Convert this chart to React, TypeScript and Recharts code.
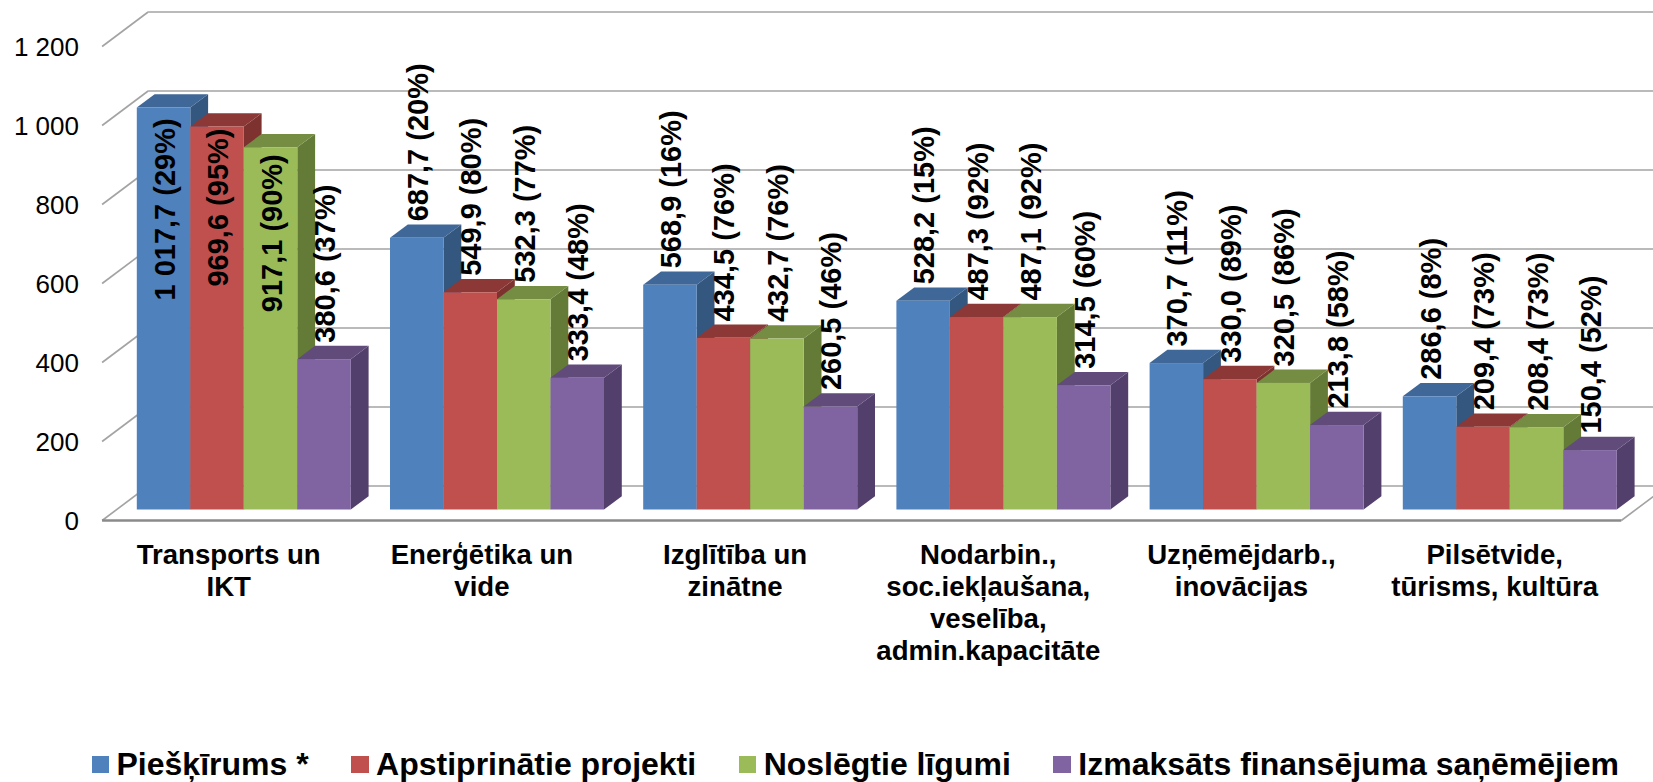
import React from 'react';
import { BarChart, Bar, XAxis, YAxis, CartesianGrid, Legend } from 'recharts';

const categories = [
  'Transports un\nIKT',
  'Enerģētika un\nvide',
  'Izglītība un\nzinātne',
  'Nodarbin.,\nsoc.iekļaušana,\nveselība,\nadmin.kapacitāte',
  'Uzņēmējdarb.,\ninovācijas',
  'Pilsētvide,\ntūrisms, kultūra',
];
const allocation = [1017.7, 687.7, 568.9, 528.2, 370.7, 286.6];
const approved = [969.6, 549.9, 434.5, 487.3, 330.0, 209.4];
const contracts = [917.1, 532.3, 432.7, 487.1, 320.5, 208.4];
const paid = [380.6, 333.4, 260.5, 314.5, 213.8, 150.4];
const allocationPct = [29, 20, 16, 15, 11, 8];
const approvedPct = [95, 80, 76, 92, 89, 73];
const contractsPct = [90, 77, 76, 92, 86, 73];
const paidPct = [37, 48, 46, 60, 58, 52];
const yTicks = [0, 200, 400, 600, 800, 1000, 1200];

// Excel places these three labels inside the bars instead of above them.
const allocationNudge = [209.5, 0, 0, 0, 0, 0];
const approvedNudge = [176.5, 0, 0, 0, 0, 0];
const contractsNudge = [181.5, 0, 0, 0, 0, 0];
const paidNudge = [0, 0, 0, 0, 0, 0];

const FONT = '"Liberation Sans", Arial, sans-serif';
// oblique projection of the 3D box
const FRONT_DX = 14.7, FRONT_DY = 11; // bars plane -> front of floor
const BACK_DX = 31.3, BACK_DY = 23.5; // bars plane -> back wall
const SIDE_DX = 17.8, SIDE_DY = 13.3; // bar depth

const series = [
  { key: 'a', name: 'Piešķīrums *', values: allocation, pct: allocationPct, nudge: allocationNudge, front: '#4F81BD', top: '#3F6797', side: '#34577F' },
  { key: 'b', name: 'Apstiprinātie projekti', values: approved, pct: approvedPct, nudge: approvedNudge, front: '#C0504D', top: '#8B3836', side: '#7E3230' },
  { key: 'c', name: 'Noslēgtie līgumi', values: contracts, pct: contractsPct, nudge: contractsNudge, front: '#9BBB59', top: '#758D43', side: '#647A37' },
  { key: 'd', name: 'Izmaksāts finansējuma saņēmējiem', values: paid, pct: paidPct, nudge: paidNudge, front: '#8064A2', top: '#604B7A', side: '#533F6B' },
];

const table = categories.map((category, i) => ({
  category,
  a: allocation[i],
  b: approved[i],
  c: contracts[i],
  d: paid[i],
}));

const spaced = (s: string) => s.replace(/\B(?=(\d{3})+(?!\d))/g, ' ');
const fmtValue = (v: number) => {
  const [w, f] = v.toFixed(1).split('.');
  return `${spaced(w)},${f}`;
};

const makeBar = (front: string, top: string, side: string) => (p: any) => {
  const { x, y, width, height } = p;
  const r = x + width;
  const b = y + height;
  return (
    <g>
      <polygon points={`${r},${y} ${r + SIDE_DX},${y - SIDE_DY} ${r + SIDE_DX},${b - SIDE_DY} ${r},${b}`} fill={side} />
      <polygon points={`${x},${y} ${x + SIDE_DX},${y - SIDE_DY} ${r + SIDE_DX},${y - SIDE_DY} ${r},${y}`} fill={top} />
      <rect x={x} y={y} width={width} height={height} fill={front} />
    </g>
  );
};

const makeLabel = (pct: number[], nudge: number[]) => (p: any) => {
  const { x, y, width, value, index } = p;
  const cx = x + width / 2 + 1;
  const bottom = y - 16.5 + nudge[index];
  return (
    <text
      key={index}
      transform={`rotate(-90 ${cx} ${bottom})`}
      x={cx}
      y={bottom}
      dominantBaseline="central"
      textAnchor="start"
      fontFamily={FONT}
      fontWeight="bold"
      fontSize={29}
      fill="#000"
    >
      {`${fmtValue(value)} (${pct[index]}%)`}
    </text>
  );
};

const wallLine = (p: any) => {
  const { x1, x2, y1, index } = p;
  const isFloor = y1 > 500;
  const fx = x1 - FRONT_DX, fy = y1 + FRONT_DY;
  const bx = x1 + BACK_DX, by = y1 - BACK_DY;
  const stroke = '#A3A3A3';
  return (
    <g key={index}>
      <line x1={fx} y1={fy} x2={bx} y2={by} stroke={stroke} strokeWidth={1.6} />
      <line x1={bx} y1={by} x2={x2 + BACK_DX} y2={by} stroke={stroke} strokeWidth={1.6} />
      {isFloor && (
        <>
          <line x1={x2 - FRONT_DX} y1={fy} x2={x2 + BACK_DX} y2={by} stroke={stroke} strokeWidth={1.6} />
          <line x1={fx} y1={fy} x2={x2 - FRONT_DX} y2={fy} stroke="#8A8A8A" strokeWidth={2.4} />
        </>
      )}
    </g>
  );
};

const YTick = (p: any) => (
  <text x={79} y={p.y + FRONT_DY} textAnchor="end" dominantBaseline="central" fontFamily={FONT} fontSize={26} fill="#000">
    {spaced(String(p.payload.value))}
  </text>
);

const XTick = (p: any) => {
  const lines = String(p.payload.value).split('\n');
  return (
    <text textAnchor="middle" fontFamily={FONT} fontWeight="bold" fontSize={27.6} fill="#000">
      {lines.map((l, i) => (
        <tspan key={i} x={p.x - FRONT_DX} y={p.y + 46 + i * 32}>
          {l}
        </tspan>
      ))}
    </text>
  );
};

const LegendContent = () => (
  <div style={{ display: 'flex', alignItems: 'center', fontFamily: FONT, fontWeight: 'bold', fontSize: 32, color: '#000', whiteSpace: 'nowrap', gap: 42.5 }}>
    {series.map((s) => (
      <div key={s.key} style={{ display: 'flex', alignItems: 'center', gap: 7.5 }}>
        <span style={{ display: 'inline-block', width: 17.5, height: 17, background: s.front }} />
        <span>{s.name}</span>
      </div>
    ))}
  </div>
);

export default function App() {
  return (
    <div style={{ position: 'fixed', left: 0, top: 0, width: 1653, height: 782, overflow: 'hidden', background: '#fff' }}>
      <BarChart
        width={1653}
        height={782}
        data={table}
        margin={{ top: 35.5, right: 17, bottom: 0, left: 0 }}
        barGap={0}
        barSize={53.5}
      >
        <CartesianGrid vertical={false} horizontal={wallLine as any} />
        <XAxis dataKey="category" axisLine={false} tickLine={false} interval={0} height={272.5} tick={XTick as any} />
        <YAxis type="number" domain={[0, 1200]} ticks={yTicks} axisLine={false} tickLine={false} width={116.8} tick={YTick as any} />
        <Legend
          layout="horizontal"
          verticalAlign="middle"
          content={LegendContent as any}
          wrapperStyle={{ left: 91.5, top: 746, width: 1560 }}
        />
        {series.map((s) => (
          <Bar
            key={s.key}
            dataKey={s.key}
            name={s.name}
            isAnimationActive={false}
            shape={makeBar(s.front, s.top, s.side) as any}
            label={makeLabel(s.pct, s.nudge) as any}
          />
        ))}
      </BarChart>
    </div>
  );
}
